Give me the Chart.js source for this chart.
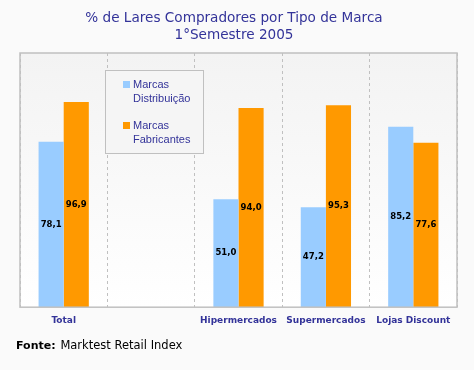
<!DOCTYPE html>
<html>
<head>
<meta charset="utf-8">
<script src="https://cdn.jsdelivr.net/npm/chart.js@4/dist/chart.umd.min.js"></script>
<style>
  html, body { margin: 0; padding: 0; background: #fafafa; }
  #wrap { width: 474px; height: 370px; }
</style>
</head>
<body>
<div id="wrap"><canvas id="chart" width="474" height="370"></canvas></div>
<script>
const categories = ['Total', '', 'Hipermercados', 'Supermercados', 'Lojas Discount'];
const distribuicao = [78.1, null, 51.0, 47.2, 85.2];
const fabricantes = [96.9, null, 94.0, 95.3, 77.6];
const titleLines = ['% de Lares Compradores por Tipo de Marca', '1°Semestre 2005'];
const legendItems = [
  { lines: ['Marcas', 'Distribuição'], color: '#99ccff' },
  { lines: ['Marcas', 'Fabricantes'], color: '#ff9900' },
];

const navy = '#333399';

function fmt(v) {
  return v.toFixed(1).replace('.', ',');
}

const backdrop = {
  id: 'backdrop',
  beforeDraw(chart) {
    const { ctx, chartArea: a } = chart;
    ctx.save();
    ctx.fillStyle = '#fafafa';
    ctx.fillRect(0, 0, chart.width, chart.height);
    const g = ctx.createLinearGradient(0, a.top, 0, a.bottom);
    g.addColorStop(0, '#f3f3f3');
    g.addColorStop(1, '#ffffff');
    ctx.fillStyle = g;
    ctx.fillRect(a.left, a.top, a.right - a.left, a.bottom - a.top);
    ctx.restore();
  },
  afterDatasetsDraw(chart) {
    const { ctx, chartArea: a } = chart;
    ctx.save();
    ctx.strokeStyle = '#c0c0c0';
    ctx.lineWidth = 1.5;
    ctx.strokeRect(a.left, a.top, a.right - a.left, a.bottom - a.top);
    ctx.restore();
  },
};

const valueLabels = {
  id: 'valueLabels',
  afterDatasetsDraw(chart) {
    const { ctx } = chart;
    ctx.save();
    ctx.font = 'bold 8.5px "DejaVu Sans"';
    ctx.fillStyle = '#000';
    ctx.textAlign = 'center';
    ctx.textBaseline = 'middle';
    chart.data.datasets.forEach((ds, i) => {
      chart.getDatasetMeta(i).data.forEach((bar, j) => {
        const v = ds.data[j];
        if (v == null) return;
        ctx.fillText(fmt(v), bar.x, (bar.y + bar.base) / 2);
      });
    });
    ctx.restore();
  },
};

const texts = {
  id: 'texts',
  afterDraw(chart) {
    const { ctx } = chart;
    ctx.save();
    // title
    ctx.fillStyle = navy;
    ctx.font = '13.6px "DejaVu Sans"';
    ctx.textAlign = 'center';
    ctx.textBaseline = 'middle';
    ctx.fillText(titleLines[0], 234, 18);
    ctx.fillText(titleLines[1], 234, 35);

    // legend box
    ctx.fillStyle = '#f5f5f5';
    ctx.fillRect(105, 71, 98, 82);
    ctx.strokeStyle = '#c0c0c0';
    ctx.lineWidth = 1;
    ctx.strokeRect(105.5, 70.5, 98, 83);
    ctx.font = '11px "Liberation Sans"';
    ctx.textAlign = 'left';
    legendItems.forEach((item, i) => {
      const y = 85 + i * 41;
      ctx.fillStyle = item.color;
      ctx.fillRect(123, y - 4, 7, 7);
      ctx.fillStyle = navy;
      ctx.fillText(item.lines[0], 133, y);
      ctx.fillText(item.lines[1], 133, y + 14);
    });

    // source
    ctx.fillStyle = '#000';
    ctx.font = 'bold 11px "DejaVu Sans"';
    ctx.fillText('Fonte:', 16, 346);
    const w = ctx.measureText('Fonte: ').width;
    ctx.font = '11.5px "DejaVu Sans"';
    ctx.fillText('Marktest Retail Index', 17 + w, 346);
    ctx.restore();
  },
};

new Chart(document.getElementById('chart'), {
  type: 'bar',
  data: {
    labels: categories,
    datasets: [
      {
        label: 'Marcas Distribuição',
        data: distribuicao,
        backgroundColor: '#99ccff',
        categoryPercentage: 0.575,
        barPercentage: 1,
      },
      {
        label: 'Marcas Fabricantes',
        data: fabricantes,
        backgroundColor: '#ff9900',
        categoryPercentage: 0.575,
        barPercentage: 1,
      },
    ],
  },
  options: {
    responsive: false,
    animation: false,
    layout: { padding: { top: 53, left: 20, right: 17, bottom: 36 } },
    plugins: {
      legend: { display: false },
      title: { display: false },
      tooltip: { enabled: false },
    },
    scales: {
      x: {
        grid: { offset: true, color: '#c0c0c0', drawTicks: false },
        border: { display: false, dash: [3, 3] },
        ticks: {
          color: navy,
          font: { family: 'DejaVu Sans', weight: 'bold', size: 9 },
          padding: 8,
        },
      },
      y: {
        display: false,
        min: 0,
        max: 120,
      },
    },
  },
  plugins: [backdrop, valueLabels, texts],
});
</script>
</body>
</html>
